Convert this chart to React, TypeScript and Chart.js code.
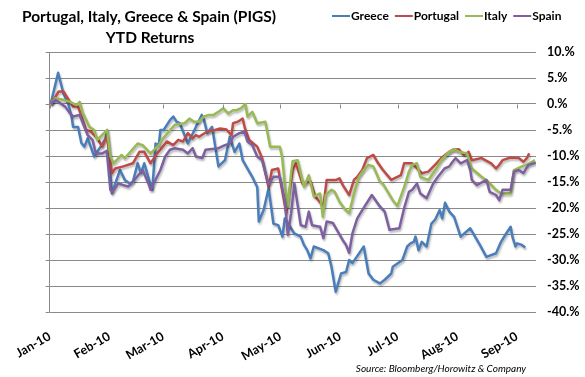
import React, { useEffect, useRef } from "react";
import { Chart, registerables } from "chart.js";

Chart.register(...registerables);

// ---- Data (day of year 2010, YTD return %) ----
const monthStarts = [0, 31, 59, 90, 120, 151, 181, 212, 243];
const monthLabels = ["Jan-10", "Feb-10", "Mar-10", "Apr-10", "May-10", "Jun-10", "Jul-10", "Aug-10", "Sep-10"];
const yTicks = [10, 5, 0, -5, -10, -15, -20, -25, -30, -35, -40];

const greece: [number, number][] = [
  [0.5, 0], [4.4, 6.0], [7.2, 2.0], [9.7, 0], [11.4, -2.4], [12.2, -4.4], [14.8, -4.4], [16.5, -7.5],
  [18.1, -8.2], [19.8, -6.6], [23.2, -10.1], [26.5, -8.2], [29.1, -6.6], [29.9, -5.0], [32.4, -17.2],
  [34.1, -15.3], [36.6, -12.7], [39.1, -14.6], [41.7, -15.3], [43.3, -14.9], [45.8, -11.4], [47.5, -13.3],
  [49.2, -11.4], [51.7, -14.6], [53.4, -16.5], [55.1, -7.6], [56.8, -7.9], [57.6, -5.0], [59.3, -5.0],
  [62.6, -3.1], [64.3, -2.4], [66.0, -3.4], [67.7, -3.7], [71.9, -7.6], [73.6, -6.3], [79.1, -2.1],
  [80.3, -3.1], [82.0, -5.6], [84.5, -4.4], [87.8, -12.0], [91.2, -10.8], [93.7, -6.3], [96.2, -9.2],
  [98.7, -7.6], [100.4, -10.8], [105.4, -14.0], [108.0, -16.0], [108.8, -22.6], [111.3, -20.4],
  [113.9, -16.2], [116.4, -23.0], [118.9, -23.3], [121.1, -25.5], [122.3, -22.0], [127.3, -24.9],
  [130.6, -25.5], [132.3, -27.1], [134.0, -28.1], [135.7, -29.7], [137.4, -27.4], [142.4, -28.1],
  [144.9, -28.7], [146.6, -31.3], [148.8, -36.1], [151.6, -32.6], [154.2, -32.3], [155.8, -30.0],
  [157.5, -30.6], [163.4, -27.4], [165.9, -32.6], [168.4, -33.8], [171.8, -34.5], [174.3, -33.8],
  [177.7, -32.6], [178.5, -31.3], [183.5, -30.0], [186.0, -27.4], [187.7, -26.8], [189.4, -26.5],
  [190.3, -25.5], [191.9, -28.1], [193.6, -26.5], [196.1, -27.4], [198.6, -23.0], [200.4, -22.3],
  [202.9, -20.4], [204.2, -22.0], [205.7, -19.0], [207.9, -20.7], [210.4, -21.7], [213.8, -25.5],
  [218.8, -23.9], [223.8, -27.1], [227.2, -29.4], [232.2, -28.7], [234.8, -26.5], [237.3, -25.0],
  [239.8, -23.6], [240.7, -25.5], [242.3, -27.4], [243.2, -26.8], [245.7, -27.1], [247.4, -27.6],
];

const portugal: [number, number][] = [
  [0.5, 0], [3.0, 1.4], [4.7, 2.4], [7.2, 2.4], [8.9, 1.4], [12.2, -0.5], [14.8, -0.5], [19.0, -5.0],
  [21.5, -5.3], [24.8, -6.6], [27.4, -8.2], [29.9, -6.0], [32.4, -13.3], [34.1, -12.4], [38.3, -12.0],
  [43.3, -11.4], [46.7, -9.2], [49.2, -9.2], [52.5, -11.4], [55.9, -9.5], [57.6, -8.8], [61.0, -7.2],
  [64.3, -7.9], [66.9, -6.9], [69.4, -7.2], [71.9, -5.6], [74.4, -6.6], [76.1, -6.0], [77.7, -6.3],
  [82.0, -5.3], [86.1, -5.0], [88.7, -4.7], [92.0, -4.9], [94.6, -6.0], [95.4, -3.7], [97.9, -3.4],
  [100.4, -2.8], [101.6, -4.7], [103.8, -6.9], [108.0, -8.2], [110.5, -10.4], [113.9, -16.0],
  [115.6, -12.7], [118.9, -12.4], [123.1, -21.0], [126.4, -12.7], [128.1, -11.4], [131.5, -15.3],
  [135.7, -14.9], [138.2, -17.8], [142.4, -19.7], [144.1, -14.6], [149.1, -14.6], [150.8, -14.3],
  [152.5, -15.6], [155.8, -17.5], [158.3, -14.6], [160.0, -14.0], [162.6, -12.7], [165.1, -10.4],
  [168.4, -9.8], [170.9, -11.4], [173.4, -12.7], [177.7, -14.6], [182.7, -13.7], [184.4, -11.4],
  [188.6, -11.4], [193.6, -13.3], [197.0, -13.0], [201.2, -11.4], [203.7, -10.4], [207.9, -9.2],
  [209.6, -8.8], [212.9, -8.7], [215.5, -9.8], [218.0, -9.2], [219.6, -10.8], [224.7, -10.4],
  [229.7, -11.4], [232.2, -12.4], [233.9, -11.7], [235.6, -10.8], [239.8, -10.3], [244.0, -10.4],
  [246.5, -11.1], [248.2, -10.4], [249.5, -9.5],
];

const italy: [number, number][] = [
  [0.5, 0], [3.0, 1.1], [7.2, 0.8], [10.6, 0.4], [12.2, 0.1], [14.0, -0.2], [15.6, 0.4], [17.3, -1.8],
  [19.0, -3.1], [20.7, -4.4], [23.2, -5.0], [24.8, -6.9], [29.9, -5.0], [31.6, -10.1], [33.2, -11.4],
  [37.4, -9.8], [39.1, -10.4], [45.8, -7.6], [48.4, -7.9], [52.5, -9.5], [56.8, -7.9], [58.4, -6.9],
  [62.6, -5.0], [65.1, -4.0], [70.2, -3.7], [72.7, -2.8], [75.2, -3.4], [77.7, -3.4], [80.3, -2.4],
  [82.8, -2.1], [85.3, -2.1], [87.8, -1.5], [90.3, -0.8], [92.9, -1.8], [95.4, -1.2], [97.1, -1.2],
  [99.6, -0.8], [101.8, 0], [102.9, -2.4], [105.4, -1.5], [108.0, -3.7], [112.2, -3.4], [114.7, -8.2],
  [117.2, -8.2], [119.7, -8.2], [120.9, -10.1], [122.3, -15.3], [123.9, -19.7], [125.6, -13.3],
  [126.4, -11.0], [129.0, -10.8], [132.3, -15.9], [134.8, -13.7], [137.4, -17.8], [140.7, -17.2],
  [142.1, -21.7], [143.6, -17.5], [146.6, -16.5], [148.3, -16.9], [150.8, -18.8], [153.3, -20.1],
  [155.8, -21.0], [158.3, -17.2], [160.9, -14.0], [163.4, -12.7], [165.9, -11.7], [168.4, -12.0],
  [171.8, -14.9], [173.3, -15.3], [178.5, -18.5], [180.9, -19.6], [184.4, -16.0], [186.9, -13.0],
  [188.6, -11.7], [191.1, -11.4], [192.8, -14.0], [197.0, -14.6], [201.2, -12.4], [203.7, -10.8],
  [207.9, -9.2], [210.4, -8.7], [212.9, -9.2], [217.1, -9.5], [219.6, -12.4], [224.7, -14.0],
  [228.0, -14.9], [232.2, -16.5], [234.8, -17.2], [239.8, -17.2], [241.5, -12.7], [245.7, -12.0],
  [248.2, -11.7], [252.4, -10.8],
];

const spain: [number, number][] = [
  [0.5, 0], [3.0, 0.8], [8.1, -0.5], [10.6, -1.8], [12.2, -2.4], [15.6, -2.1], [17.3, -3.7], [19.8, -6.0],
  [22.3, -6.9], [24.0, -9.5], [27.4, -9.5], [29.7, -9.0], [31.6, -16.5], [32.4, -16.9], [35.8, -15.3],
  [40.8, -15.9], [42.5, -15.3], [48.4, -12.7], [51.7, -15.6], [52.5, -16.5], [57.6, -12.7], [60.1, -10.1],
  [62.6, -8.8], [65.1, -8.5], [69.4, -8.8], [71.9, -9.5], [74.4, -8.5], [76.1, -10.1], [79.4, -10.4],
  [81.1, -8.8], [87.8, -8.5], [91.2, -7.9], [93.7, -7.6], [95.4, -6.3], [98.7, -5.6], [101.3, -5.3],
  [102.9, -7.2], [105.4, -7.9], [108.0, -10.1], [110.5, -10.8], [113.9, -15.5], [116.4, -14.0],
  [119.7, -14.0], [122.3, -18.5], [123.9, -25.2], [125.6, -21.0], [127.3, -15.3], [130.6, -23.3],
  [133.1, -23.6], [134.8, -20.7], [136.5, -23.3], [140.7, -23.6], [142.4, -25.8], [144.1, -22.6],
  [147.4, -22.9], [152.5, -26.2], [154.2, -27.1], [155.8, -28.6], [157.5, -24.9], [160.0, -22.0],
  [162.6, -20.4], [167.6, -17.5], [171.8, -19.7], [174.3, -20.7], [176.8, -24.2], [181.9, -23.9],
  [184.4, -20.0], [186.9, -16.9], [188.6, -16.5], [191.1, -15.3], [192.8, -17.2], [196.1, -18.1],
  [199.5, -15.3], [202.0, -14.0], [205.4, -12.4], [207.9, -12.0], [209.6, -11.1], [211.2, -10.4],
  [213.8, -11.4], [217.1, -10.8], [218.8, -12.7], [219.6, -14.6], [222.2, -15.6], [227.2, -14.6],
  [228.9, -16.9], [232.2, -17.5], [233.9, -18.5], [235.6, -16.5], [239.8, -16.5], [241.5, -13.0],
  [244.0, -12.7], [246.5, -13.3], [249.0, -11.7], [252.9, -11.3],
];

const seriesNames = ["Greece", "Portugal", "Italy", "Spain"];
const seriesColors = ["#4A7EBB", "#BE4B48", "#98B954", "#7D60A0"];
const seriesData = [greece, portugal, italy, spain];

const titleLines = ["Portugal, Italy, Greece & Spain (PIGS)", "YTD Returns"];
const sourceText = "Source: Bloomberg/Horowitz & Company";

const GRID = "#8a8a8a";
const FONT = "Lato, 'Open Sans', sans-serif";

const shadowPlugin = {
  id: "shadow",
  beforeDatasetsDraw(chart: any) {
    const ctx = chart.ctx;
    ctx.save();
    ctx.shadowColor = "rgba(0,0,0,0.28)";
    ctx.shadowBlur = 2;
    ctx.shadowOffsetX = 1;
    ctx.shadowOffsetY = 2;
  },
  afterDatasetsDraw(chart: any) {
    chart.ctx.restore();
  },
};

const decorPlugin = {
  id: "decor",
  afterDraw(chart: any) {
    const ctx = chart.ctx;
    const xs = chart.scales.x;
    const ys = chart.scales.y;
    const area = chart.chartArea;
    ctx.save();
    // month tick marks on the 0% line
    ctx.strokeStyle = GRID;
    ctx.lineWidth = 1;
    const y0 = Math.round(ys.getPixelForValue(0)) + 0.5;
    monthStarts.forEach((d) => {
      const x = Math.round(xs.getPixelForValue(d)) + 0.5;
      ctx.beginPath();
      ctx.moveTo(x, y0);
      ctx.lineTo(x, y0 + 4);
      ctx.stroke();
    });
    // short ticks left of the vertical axis
    yTicks.forEach((v) => {
      const y = Math.round(ys.getPixelForValue(v)) + 0.5;
      ctx.beginPath();
      ctx.moveTo(area.left - 4, y);
      ctx.lineTo(area.left, y);
      ctx.stroke();
    });
    // title
    ctx.fillStyle = "#000";
    ctx.textAlign = "center";
    ctx.textBaseline = "middle";
    ctx.font = `bold 15.5px ${FONT}`;
    ctx.fillText(titleLines[0], 149, 17);
    ctx.fillText(titleLines[1], 150, 38);
    // legend
    ctx.font = `bold 12px ${FONT}`;
    ctx.textAlign = "left";
    let lx = 332;
    const ly = 16;
    seriesNames.forEach((name, i) => {
      ctx.strokeStyle = seriesColors[i];
      ctx.lineWidth = 2;
      ctx.beginPath();
      ctx.moveTo(lx, ly);
      ctx.lineTo(lx + 18, ly);
      ctx.stroke();
      ctx.fillStyle = "#000";
      ctx.fillText(name, lx + 19, ly);
      lx += 19 + ctx.measureText(name).width + 6;
    });
    // source
    ctx.font = `italic 10px ${FONT}`;
    ctx.textAlign = "center";
    ctx.fillText(sourceText, 441, 369);
    ctx.restore();
  },
};

export default function App() {
  const ref = useRef<HTMLCanvasElement | null>(null);
  useEffect(() => {
    document.body.style.margin = "0";
    let chart: Chart | null = null;
    let cancelled = false;
    const make = () => {
      if (cancelled || !ref.current) return;
      chart = new Chart(ref.current, {
        type: "line",
        data: {
          datasets: seriesData.map((s, i) => ({
            label: seriesNames[i],
            data: s.map(([x, y]) => ({ x, y })),
            borderColor: seriesColors[i],
            backgroundColor: seriesColors[i],
            borderWidth: 2.5,
            pointRadius: 0,
            tension: 0,
            fill: false,
            borderJoinStyle: "round" as const,
            order: 3 - i,
          })),
        },
        options: {
          animation: false,
          responsive: false,
          devicePixelRatio: 1,
          layout: { padding: { top: 52, left: 34, right: 0, bottom: 0 } },
          plugins: {
            legend: { display: false },
            title: { display: false },
            tooltip: { enabled: false },
          },
          scales: {
            x: {
              type: "linear",
              min: 0,
              max: 253,
              afterBuildTicks: (s: any) => {
                s.ticks = monthStarts.map((v) => ({ value: v }));
              },
              afterFit: (s: any) => {
                s.height = 65;
              },
              ticks: {
                autoSkip: false,
                minRotation: 30,
                maxRotation: 30,
                padding: 17,
                color: "#000",
                font: { family: FONT, weight: "bold", size: 12.5 },
                callback: (_v: any, i: number) => monthLabels[i],
              },
              grid: {
                drawTicks: false,
                lineWidth: 1,
                color: (c: any) => (c.index === 0 ? GRID : "rgba(0,0,0,0)"),
              },
              border: { display: false },
            },
            y: {
              position: "right",
              min: -40,
              max: 10,
              afterBuildTicks: (s: any) => {
                s.ticks = yTicks.map((v) => ({ value: v }));
              },
              afterFit: (s: any) => {
                s.width = 49;
              },
              ticks: {
                padding: 11,
                color: "#000",
                font: { family: FONT, weight: "bold", size: 12.5 },
                callback: (v: any) => `${v}.%`,
              },
              grid: { drawTicks: false, color: GRID, lineWidth: 1 },
              border: { display: false },
            },
          },
        },
        plugins: [shadowPlugin, decorPlugin],
      } as any);
    };
    const fonts = (document as any).fonts;
    if (fonts && fonts.load) {
      Promise.all([
        fonts.load(`bold 12px Lato`),
        fonts.load(`italic 10px Lato`),
        fonts.load(`bold 15px Lato`),
      ])
        .catch(() => {})
        .then(make);
    } else {
      make();
    }
    return () => {
      cancelled = true;
      if (chart) chart.destroy();
    };
  }, []);
  return (
    <div style={{ width: 585, height: 377, background: "#fff" }}>
      <canvas ref={ref} width={585} height={377} />
    </div>
  );
}
